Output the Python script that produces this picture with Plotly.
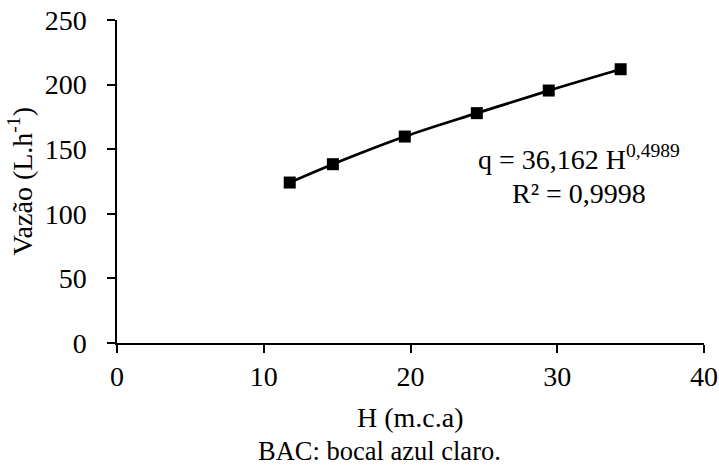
import plotly.graph_objects as go

# Data
H = [11.77, 14.71, 19.61, 24.52, 29.42, 34.32]
q = [124.2, 138.4, 159.8, 177.9, 195.4, 211.9]
x_ticks = [0, 10, 20, 30, 40]
y_ticks = [0, 50, 100, 150, 200, 250]

FONT = "Liberation Serif, Times New Roman, serif"

fig = go.Figure()
# trend line (smooth through the observed points)
fig.add_trace(go.Scatter(
    x=H, y=q, mode="lines", line=dict(color="black", width=2.8, shape="spline"),
    showlegend=False, hoverinfo="skip"))
fig.add_trace(go.Scatter(
    x=H, y=q, mode="markers",
    marker=dict(symbol="square", size=12, color="black"),
    showlegend=False))

L, R, T, B = 117, 704, 20, 343
W, Hh = 719, 466
pw, ph = R - L, B - T

def px(xp):
    return (xp - L) / pw

def py(yp):
    return (B - yp) / ph

fig.update_layout(
    width=W, height=Hh,
    margin=dict(l=L, r=W - R, t=T, b=Hh - B, pad=0, autoexpand=False),
    paper_bgcolor="white", plot_bgcolor="white",
    font=dict(family=FONT, size=28, color="black"),
    xaxis=dict(range=[0, 40], tickvals=x_ticks, ticks="outside", ticklen=8,
               tickwidth=1.5, tickcolor="black", showline=True, linecolor="black",
               linewidth=1.5, showgrid=False, zeroline=False, automargin=False,
               tickfont=dict(family=FONT, size=28, color="black")),
    yaxis=dict(range=[0, 250], tickvals=y_ticks, ticks="outside", ticklen=8,
               tickwidth=1.5, tickcolor="black", showline=True, linecolor="black",
               linewidth=1.5, showgrid=False, zeroline=False, automargin=False,
               ticklabelstandoff=15,
               tickfont=dict(family=FONT, size=28, color="black")),
)

ann = dict(xref="paper", yref="paper", showarrow=False,
           font=dict(family=FONT, size=28, color="black"))
fig.add_annotation(text="Vazão (L.h<sup>-1</sup>)", x=px(21), y=0.5, textangle=-90,
                   xanchor="center", yanchor="middle", **ann)
fig.add_annotation(text="H (m.c.a)", x=px(410), y=py(417),
                   xanchor="center", yanchor="middle", **ann)
fig.add_annotation(text="BAC: bocal azul claro.", x=px(379), y=py(451),
                   xanchor="center", yanchor="middle",
                   xref="paper", yref="paper", showarrow=False,
                   font=dict(family=FONT, size=26.5, color="black"))
fig.add_annotation(text="q = 36,162 H<sup>0,4989</sup>", x=px(579), y=py(157),
                   xanchor="center", yanchor="middle", **ann)
fig.add_annotation(text="R² = 0,9998", x=px(579), y=py(193),
                   xanchor="center", yanchor="middle", **ann)

fig.write_html("out.html", config={"displayModeBar": False},
               post_script="document.body.style.margin='0';")
